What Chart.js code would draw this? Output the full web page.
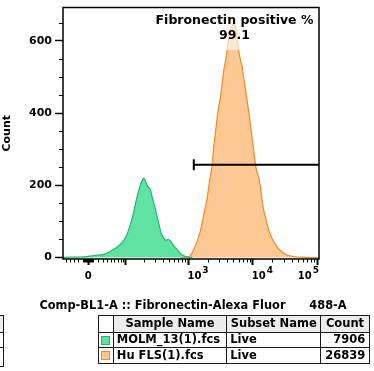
<!DOCTYPE html>
<html><head><meta charset="utf-8">
<script src="https://cdn.jsdelivr.net/npm/chart.js@4"></script>
<style>
html,body{margin:0;padding:0;background:#fff;}
#wrap{position:relative;width:374px;height:371px;overflow:hidden;font-family:"DejaVu Sans",sans-serif;}
#c{position:absolute;left:0;top:0;}
.ln{position:absolute;background:#1a1a1a;}
.bg{position:absolute;background:#ececec;}
.tx{position:absolute;font-weight:bold;font-size:11.5px;white-space:nowrap;color:#000;}
.sw{position:absolute;box-sizing:border-box;border:1px solid;}
</style></head><body><div id="wrap"><canvas id="c" width="374" height="371"></canvas></div>
<script>
// ---------------- data ----------------
// x positions are in display (biexponential) units; y values are event counts
const greenX = [-0.389,-0.280,-0.124,0,0.078,0.156,0.233,0.311,0.389,0.467,0.529,0.575,0.607,0.653,0.684,0.715,0.731,0.762,0.809,0.840,0.860,0.886,0.922,0.949,0.964,0.995,1.042,1.073,1.120,1.151,1.198,1.244,1.275,1.322,1.369,1.431,1.493,1.555,1.617];
const greenY = [0,1,1,3,5,7,9,14,22,32,43,55,67,92,111,135,148,172,202,215,220,212,197,192,188,165,134,110,75,60,48,50,46,34,24,11,4,1,0];
const orangeX = [1.431,1.540,1.586,1.633,1.680,1.742,1.788,1.846,1.882,1.924,1.944,1.975,2.006,2.026,2.053,2.084,2.104,2.131,2.157,2.177,2.208,2.240,2.271,2.302,2.337,2.364,2.390,2.411,2.442,2.473,2.493,2.519,2.546,2.566,2.597,2.621,2.649,2.675,2.706,2.726,2.768,2.804,2.862,2.935,3.002,3.090,3.188,3.297,3.453,3.577];
const orangeY = [0,1,6,20,40,75,115,165,210,256,300,347,395,419,446,490,519,545,575,605,630,645,648,615,570,545,528,500,464,425,401,365,328,300,256,235,220,192,150,129,100,75,50,29,16,7,3,1,0,0];
const gateX = [1.638, 3.582];
const gateY = 257;
const gateName = 'Fibronectin positive %';
const gateValue = '99.1';
const gateLabelX = 2.27;
const xTickValues = [0, 1e3, 1e4, 1e5];
const xTickBase = ['0','10','10','10'];
const xTickExp = ['','3','4','5'];
const xMajorTicks = [0, 1e2, 1e3, 1e4, 1e5];
const xMinorTicks = [-50,-40,-30,-20,-10,-8,-6,-4,-2,2,4,6,8,10,20,30,40,50,60,70,80,90,
  200,300,400,500,600,700,800,900,2000,3000,4000,5000,6000,7000,8000,9000,
  20000,30000,40000,50000,60000,70000,80000,90000];
const yTickValues = [0,200,400,600];
const yMinorTicks = [50,100,150,250,300,350,450,500,550,650];
const xTitle = 'Comp-BL1-A :: Fibronectin-Alexa Fluor      488-A';
const yTitle = 'Count';
const sampleNames = ['MOLM_13(1).fcs','Hu FLS(1).fcs'];
const subsetNames = ['Live','Live'];
const counts = [7906, 26839];
const headers = ['Sample Name','Subset Name','Count'];
const fills = ['#60e3a2','#fdc893'];
const lines = ['#23b574','#ef8a2b'];

// biexponential-like display transform (value -> display units)
const W = 27.9;
function biex(v){ return Math.asinh(v/(2*W))/Math.LN10; }

const FONT = '"DejaVu Sans", sans-serif';

const decor = {
  id:'decor',
  afterDatasetsDraw(chart){
    const ctx = chart.ctx, xs = chart.scales.x;
    const cx = xs.getPixelForValue(gateLabelX);
    ctx.save();
    ctx.fillStyle = 'rgba(255,255,255,0.6)';
    ctx.fillRect(cx-82, 12, 164, 38);
    ctx.fillStyle = '#000';
    ctx.font = 'bold 12.5px ' + FONT;
    ctx.textAlign = 'center'; ctx.textBaseline = 'alphabetic';
    ctx.fillText(gateName, cx, 24);
    ctx.fillText(gateValue, cx, 39);
    ctx.restore();
  },
  afterDraw(chart){
    const ctx = chart.ctx, xs = chart.scales.x, ys = chart.scales.y, a = chart.chartArea;
    ctx.save();
    ctx.strokeStyle = '#000';
    ctx.lineWidth = 1;
    ctx.beginPath();
    xMinorTicks.forEach(v => { const p = Math.round(xs.getPixelForValue(biex(v)))+0.5; ctx.moveTo(p, a.bottom); ctx.lineTo(p, a.bottom+3.5); });
    yMinorTicks.forEach(v => { const p = Math.round(ys.getPixelForValue(v))+0.5; ctx.moveTo(a.left-4, p); ctx.lineTo(a.left, p); });
    ctx.stroke();
    ctx.lineWidth = 1.5;
    ctx.strokeRect(a.left, a.top, a.right-a.left, a.bottom-a.top);
    ctx.fillStyle = '#000';
    ctx.textBaseline = 'alphabetic';
    xTickValues.forEach((v,i) => {
      const p = xs.getPixelForValue(biex(v));
      ctx.font = 'bold 10px ' + FONT;
      const bw = ctx.measureText(xTickBase[i]).width;
      if (!xTickExp[i]) { ctx.textAlign='center'; ctx.fillText(xTickBase[i], p, 279); return; }
      ctx.font = 'bold 9px ' + FONT;
      const ew = ctx.measureText(xTickExp[i]).width;
      let left = p - 1;
      if (left + bw + 1 + ew > a.right) left = a.right - (bw + 1 + ew);
      ctx.textAlign = 'left';
      ctx.font = 'bold 10px ' + FONT;
      ctx.fillText(xTickBase[i], left, 279);
      ctx.font = 'bold 9px ' + FONT;
      ctx.fillText(xTickExp[i], left + bw + 1, 273);
    });
    ctx.font = 'bold 11.4px ' + FONT;
    ctx.textAlign = 'center'; ctx.textBaseline = 'middle';
    ctx.fillText(xTitle, (a.left+a.right)/2 + 2, 306.5);
    ctx.restore();
  }
};

new Chart(document.getElementById('c'), {
  type: 'line',
  data: {
    datasets: [
      { label:'gate', data: gateX.map(x => ({x, y: gateY})), borderColor:'#000', borderWidth:2,
        pointStyle:['line', false], pointRadius:[5.5,0], pointRotation:90, pointBorderWidth:2,
        pointBorderColor:'#000', fill:false, order:0, tension:0 },
      { label: sampleNames[0], data: greenX.map((x,i)=>({x, y: greenY[i]})), borderColor: lines[0],
        backgroundColor: fills[0], borderWidth:1.2, pointRadius:0, fill:'origin', tension:0.25, order:1 },
      { label: sampleNames[1], data: orangeX.map((x,i)=>({x, y: orangeY[i]})), borderColor: lines[1],
        backgroundColor: fills[1], borderWidth:1.2, pointRadius:0, fill:'origin', tension:0.25, order:2 }
    ]
  },
  options: {
    responsive:false, animation:false, devicePixelRatio:1,
    layout:{ padding:{ left:0, top:3, right:55, bottom:56 } },
    plugins:{ legend:{display:false}, tooltip:{enabled:false} },
    scales:{
      x:{ type:'linear', min:-0.393, max:3.582,
        afterBuildTicks: s => { s.ticks = xMajorTicks.map(v => ({value: biex(v)})); },
        afterFit: s => { s.height = 56; s.paddingLeft = 0; s.paddingRight = 0; },
        ticks:{ display:false },
        grid:{ display:true, drawOnChartArea:false, drawTicks:true, tickLength:6, tickWidth:2, tickColor:'#000' },
        border:{ display:false }
      },
      y:{ type:'linear', min:-4, max:692,
        afterBuildTicks: s => { s.ticks = yTickValues.map(v => ({value:v})); },
        afterFit: s => { s.width = 63; s.paddingTop = 0; s.paddingBottom = 0; },
        ticks:{ padding:3, color:'#000', font:{ family: FONT, weight:'bold', size:11 } },
        grid:{ display:true, drawOnChartArea:false, drawTicks:true, tickLength:8, tickWidth:1.5, tickColor:'#000' },
        border:{ display:false },
        title:{ display:true, text: yTitle, color:'#000', padding:{top:1,bottom:0}, font:{ family: FONT, weight:'bold', size:11 } }
      }
    }
  },
  plugins:[decor]
});

// ---------------- legend table (HTML text) ----------------
(function(){
  const wrap = document.getElementById('wrap');
  const colX = [98, 113.3, 226.7, 320.7, 369.3];
  const rowY = [315, 332, 347.5, 363];
  function add(cls, css, text){ const d=document.createElement('div'); d.className=cls; Object.assign(d.style, css); if(text!==undefined) d.textContent=text; wrap.appendChild(d); return d; }
  add('bg', {left:colX[1]+'px', top:rowY[0]+'px', width:(colX[4]-colX[1])+'px', height:(rowY[1]-rowY[0])+'px'});
  add('bg', {left:'0px', top:rowY[0]+'px', width:'3px', height:(rowY[1]-rowY[0])+'px'});
  rowY.forEach(y => add('ln', {left:colX[0]+'px', top:(y-0.5)+'px', width:(colX[4]-colX[0]+1)+'px', height:'1px'}));
  colX.forEach(x => add('ln', {left:(x-0.5)+'px', top:rowY[0]+'px', width:'1px', height:(rowY[3]-rowY[0])+'px'}));
  [315, 332, 347.5, 366].forEach(y => add('ln', {left:'0px', top:(y-0.5)+'px', width:'4px', height:'1px'}));
  add('ln', {left:'3px', top:'314.5px', width:'1px', height:'52px'});
  headers.forEach((h,i) => {
    add('tx', {left:colX[i+1]+'px', width:(colX[i+2]-colX[i+1])+'px', textAlign:'center', top:rowY[0]+'px', height:(rowY[1]-rowY[0])+'px', lineHeight:(rowY[1]-rowY[0])+'px'}, h);
  });
  sampleNames.forEach((n,r) => {
    const top = rowY[r+1], h = rowY[r+2]-rowY[r+1];
    add('sw', {left:'101px', top:(top+3.5)+'px', width:'9px', height:'9px', background:fills[r], borderColor:lines[r]});
    add('tx', {left:(colX[1]+3.5)+'px', top:top+'px', lineHeight:h+'px', height:h+'px'}, n);
    add('tx', {left:(colX[2]+3.5)+'px', top:top+'px', lineHeight:h+'px', height:h+'px'}, subsetNames[r]);
    add('tx', {left:colX[3]+'px', width:(colX[4]-colX[3]-4)+'px', textAlign:'right', top:top+'px', lineHeight:h+'px', height:h+'px'}, String(counts[r]));
  });
})();
</script></body></html>
